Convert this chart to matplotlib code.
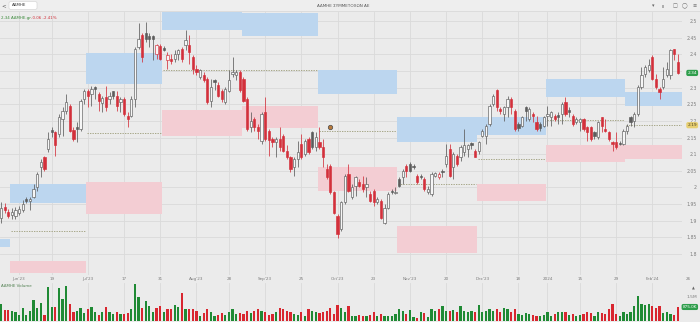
import numpy as np
import pandas as pd
import matplotlib.pyplot as plt
from matplotlib.patches import Rectangle, FancyBboxPatch
from matplotlib.transforms import blended_transform_factory

# ── data ──────────────────────────────────────────────────────────────────────
first_date = "2023-05-29"
holidays = ["2023-06-05", "2023-08-15", "2023-12-25", "2023-12-26", "2024-01-01"]

open_ = [1.909, 1.941, 1.926, 1.917, 1.914, 1.923, 1.931, 1.965, 1.958, 1.972,
         2.000, 2.060, 2.090, 2.116, 2.174, 2.166, 2.161, 2.206, 2.231, 2.246,
         2.174, 2.181, 2.176, 2.266, 2.291, 2.281, 2.302, 2.281, 2.255, 2.271,
         2.266, 2.289, 2.276, 2.256, 2.266, 2.216, 2.216, 2.266, 2.422, 2.458,
         2.463, 2.454, 2.454, 2.402, 2.424, 2.420, 2.382, 2.385, 2.387, 2.402,
         2.417, 2.427, 2.427, 2.392, 2.357, 2.332, 2.337, 2.327, 2.261, 2.322,
         2.307, 2.291, 2.256, 2.291, 2.342, 2.337, 2.347, 2.327, 2.266, 2.181,
         2.206, 2.181, 2.141, 2.226, 2.171, 2.146, 2.136, 2.146, 2.156, 2.110,
         2.090, 2.060, 2.085, 2.131, 2.100, 2.146, 2.166, 2.121, 2.136, 2.121,
         2.055, 2.065, 1.985, 1.914, 1.874, 1.955, 2.040, 1.970, 2.005, 2.015,
         2.010, 2.000, 1.980, 1.990, 1.955, 1.960, 1.894, 1.939, 1.990, 1.982,
         2.025, 2.030, 2.065, 2.070, 2.065, 2.035, 2.035, 2.025, 1.985, 1.980,
         2.035, 2.030, 2.050, 2.070, 2.116, 2.060, 2.095, 2.090, 2.105, 2.116,
         2.133, 2.110, 2.110, 2.156, 2.156, 2.191, 2.251, 2.294, 2.236, 2.221,
         2.241, 2.266, 2.231, 2.191, 2.186, 2.241, 2.206, 2.221, 2.196, 2.191,
         2.186, 2.216, 2.211, 2.216, 2.219, 2.221, 2.256, 2.233, 2.216, 2.196,
         2.196, 2.206, 2.181, 2.181, 2.166, 2.151, 2.211, 2.176, 2.166, 2.136,
         2.136, 2.135, 2.131, 2.171, 2.211, 2.201, 2.221, 2.302, 2.342, 2.352,
         2.392, 2.327, 2.297, 2.302, 2.337, 2.337, 2.415, 2.377]
high = [1.955, 1.952, 1.934, 1.939, 1.940, 1.944, 1.961, 1.972, 1.970, 2.010,
        2.045, 2.085, 2.095, 2.166, 2.181, 2.171, 2.221, 2.241, 2.281, 2.251,
        2.181, 2.196, 2.266, 2.296, 2.296, 2.306, 2.306, 2.286, 2.276, 2.304,
        2.286, 2.291, 2.291, 2.271, 2.271, 2.226, 2.274, 2.422, 2.493, 2.463,
        2.498, 2.463, 2.458, 2.432, 2.432, 2.424, 2.407, 2.402, 2.412, 2.417,
        2.422, 2.473, 2.458, 2.397, 2.367, 2.357, 2.347, 2.332, 2.327, 2.327,
        2.317, 2.296, 2.302, 2.352, 2.392, 2.352, 2.352, 2.332, 2.271, 2.226,
        2.211, 2.191, 2.226, 2.271, 2.176, 2.151, 2.151, 2.181, 2.161, 2.126,
        2.095, 2.090, 2.141, 2.161, 2.146, 2.151, 2.171, 2.166, 2.181, 2.146,
        2.070, 2.070, 1.990, 1.919, 1.960, 2.040, 2.070, 2.010, 2.035, 2.025,
        2.035, 2.030, 1.990, 1.995, 1.970, 1.965, 1.950, 1.985, 1.995, 2.000,
        2.030, 2.055, 2.070, 2.075, 2.070, 2.040, 2.040, 2.030, 2.005, 2.045,
        2.045, 2.045, 2.055, 2.131, 2.131, 2.105, 2.100, 2.126, 2.176, 2.131,
        2.138, 2.116, 2.141, 2.176, 2.191, 2.251, 2.281, 2.297, 2.241, 2.246,
        2.276, 2.271, 2.236, 2.196, 2.216, 2.246, 2.241, 2.226, 2.216, 2.196,
        2.216, 2.246, 2.231, 2.221, 2.226, 2.256, 2.271, 2.241, 2.221, 2.211,
        2.208, 2.208, 2.186, 2.186, 2.171, 2.201, 2.211, 2.206, 2.171, 2.141,
        2.166, 2.141, 2.176, 2.191, 2.216, 2.226, 2.307, 2.362, 2.367, 2.387,
        2.397, 2.342, 2.302, 2.362, 2.377, 2.417, 2.417, 2.402]
low = [1.894, 1.924, 1.907, 1.904, 1.905, 1.917, 1.925, 1.952, 1.931, 1.967,
       1.990, 2.030, 2.050, 2.106, 2.151, 2.095, 2.151, 2.156, 2.221, 2.166,
       2.141, 2.136, 2.171, 2.251, 2.241, 2.246, 2.266, 2.231, 2.226, 2.231,
       2.251, 2.266, 2.231, 2.226, 2.216, 2.181, 2.211, 2.241, 2.417, 2.377,
       2.437, 2.422, 2.382, 2.387, 2.382, 2.410, 2.357, 2.372, 2.377, 2.382,
       2.377, 2.412, 2.372, 2.342, 2.337, 2.327, 2.317, 2.251, 2.241, 2.292,
       2.271, 2.256, 2.251, 2.286, 2.332, 2.322, 2.286, 2.256, 2.171, 2.166,
       2.171, 2.146, 2.131, 2.141, 2.095, 2.121, 2.090, 2.110, 2.105, 2.085,
       2.045, 2.035, 2.060, 2.085, 2.095, 2.100, 2.116, 2.110, 2.116, 2.060,
       2.025, 1.980, 1.919, 1.849, 1.869, 1.950, 1.985, 1.965, 1.975, 2.000,
       1.985, 1.970, 1.955, 1.945, 1.950, 1.904, 1.889, 1.935, 1.980, 1.980,
       2.000, 2.010, 2.030, 2.045, 2.055, 2.010, 2.025, 1.990, 1.980, 1.975,
       2.030, 2.025, 2.030, 2.060, 2.030, 2.025, 2.065, 2.080, 2.095, 2.090,
       2.115, 2.090, 2.100, 2.151, 2.131, 2.186, 2.246, 2.231, 2.221, 2.201,
       2.211, 2.221, 2.171, 2.171, 2.181, 2.201, 2.201, 2.196, 2.171, 2.171,
       2.181, 2.186, 2.186, 2.201, 2.191, 2.191, 2.216, 2.211, 2.186, 2.191,
       2.171, 2.171, 2.141, 2.141, 2.146, 2.146, 2.166, 2.166, 2.141, 2.110,
       2.116, 2.126, 2.126, 2.161, 2.186, 2.181, 2.216, 2.297, 2.332, 2.347,
       2.322, 2.297, 2.267, 2.297, 2.332, 2.327, 2.382, 2.342]
close = [1.939, 1.931, 1.914, 1.926, 1.931, 1.935, 1.950, 1.960, 1.964, 1.995,
         2.040, 2.075, 2.055, 2.146, 2.166, 2.126, 2.211, 2.231, 2.256, 2.171,
         2.146, 2.175, 2.261, 2.291, 2.276, 2.296, 2.296, 2.259, 2.269, 2.241,
         2.276, 2.276, 2.246, 2.266, 2.221, 2.206, 2.266, 2.417, 2.447, 2.392,
         2.447, 2.447, 2.447, 2.427, 2.387, 2.414, 2.397, 2.379, 2.402, 2.412,
         2.387, 2.442, 2.407, 2.357, 2.347, 2.352, 2.324, 2.256, 2.302, 2.317,
         2.276, 2.266, 2.296, 2.322, 2.347, 2.347, 2.292, 2.261, 2.176, 2.201,
         2.181, 2.171, 2.221, 2.146, 2.144, 2.136, 2.146, 2.121, 2.110, 2.090,
         2.055, 2.085, 2.105, 2.090, 2.141, 2.105, 2.121, 2.151, 2.121, 2.090,
         2.030, 1.985, 1.924, 1.859, 1.955, 2.035, 1.990, 2.000, 2.030, 2.005,
         1.995, 2.010, 1.960, 1.955, 1.965, 1.909, 1.939, 1.980, 1.985, 1.987,
         2.005, 2.050, 2.048, 2.050, 2.060, 2.015, 2.030, 1.995, 1.995, 2.040,
         2.042, 2.040, 2.045, 2.095, 2.035, 2.100, 2.070, 2.121, 2.126, 2.126,
         2.128, 2.092, 2.136, 2.171, 2.186, 2.246, 2.276, 2.241, 2.231, 2.241,
         2.266, 2.241, 2.176, 2.178, 2.211, 2.231, 2.236, 2.216, 2.176, 2.178,
         2.211, 2.221, 2.226, 2.206, 2.213, 2.251, 2.221, 2.226, 2.191, 2.206,
         2.206, 2.176, 2.166, 2.146, 2.156, 2.196, 2.186, 2.171, 2.146, 2.131,
         2.121, 2.131, 2.171, 2.186, 2.196, 2.221, 2.302, 2.337, 2.362, 2.367,
         2.327, 2.302, 2.287, 2.327, 2.357, 2.412, 2.402, 2.344]
volume = [1060, 710, 710, 600, 540, 400, 790, 400, 600, 1310,
          790, 1100, 400, 2100, 900, 850, 2040, 1375, 2210, 1060,
          540, 650, 790, 500, 750, 850, 540, 400, 540, 850,
          540, 440, 580, 440, 440, 500, 750, 2310, 1480, 790,
          1270, 960, 580, 790, 920, 540, 750, 750, 1000, 850,
          1730, 750, 750, 750, 600, 330, 480, 750, 580, 330,
          375, 480, 375, 540, 750, 440, 500, 440, 650, 500,
          650, 750, 650, 580, 375, 440, 580, 790, 750, 650,
          580, 440, 375, 540, 330, 750, 650, 540, 500, 540,
          650, 790, 440, 1000, 790, 540, 960, 330, 290, 375,
          330, 290, 375, 540, 330, 440, 330, 290, 330, 440,
          750, 650, 440, 710, 230, 170, 540, 500, 230, 750,
          650, 750, 960, 650, 650, 710, 580, 960, 650, 540,
          650, 580, 1000, 540, 650, 750, 650, 750, 540, 790,
          750, 580, 750, 440, 375, 480, 440, 375, 330, 290,
          375, 540, 330, 440, 540, 580, 580, 375, 440, 330,
          375, 440, 540, 500, 330, 580, 500, 440, 750, 1040,
          440, 330, 540, 440, 580, 960, 1560, 1060, 1000, 1060,
          910, 810, 940, 500, 560, 410, 380, 875]  # thousand shares

# monthly levels: upper band (blue), pivot (dotted), lower band (pink)
months = ["2023-05", "2023-06", "2023-07", "2023-08", "2023-09",
          "2023-10", "2023-11", "2023-12", "2024-01", "2024-02"]
upper_lo = [1.821, 1.953, 2.310, 2.473, 2.455, 2.281, 2.136, 2.159, 2.273, 2.246]
upper_hi = [1.845, 2.010, 2.404, 2.545, 2.523, 2.352, 2.213, 2.211, 2.327, 2.287]
pivot = [1.720, 1.868, 2.163, 2.354, 2.352, 2.171, 2.010, 2.085, 2.203, 2.187]
lower_lo = [1.600, 1.744, 1.921, 2.156, 2.179, 1.990, 1.804, 1.960, 2.075, 2.085]
lower_hi = [1.630, 1.780, 2.015, 2.233, 2.246, 2.060, 1.884, 2.010, 2.128, 2.126]

event_dates = ["2023-10-05"]

tick_dates = ["2023-06-05", "2023-06-19", "2023-07-03", "2023-07-17", "2023-07-31",
              "2023-08-14", "2023-08-28", "2023-09-11", "2023-09-25", "2023-10-09",
              "2023-10-23", "2023-11-06", "2023-11-20", "2023-12-04", "2023-12-18",
              "2024-01-01", "2024-01-15", "2024-01-29", "2024-02-12", "2024-02-26"]
tick_labels = ["Jun'23", "19", "Jul'23", "17", "31", "Aug'23", "28", "Sep'23", "25",
               "Oct'23", "23", "Nov'23", "20", "Dec'23", "18", "2024", "15", "29",
               "Feb'24", "26"]
price_ticks = [1.8, 1.85, 1.9, 1.95, 2.0, 2.05, 2.1, 2.15, 2.2, 2.25, 2.3, 2.35,
               2.4, 2.45, 2.5]

ticker = "ΑΔΜΗΕ"
title = "ΑΔΜΗΕ ΣΥΜΜΕΤΟΧΩΝ ΑΕ"

# ── colours ───────────────────────────────────────────────────────────────────
BG = "#ebebeb"
GRID = "#dadada"
RED = "#d3303b"
GRAY = "#5c5c5c"
HOLLOW = "#f6f6f6"
VGREEN = "#1f8a34"
VRED = "#d8262f"
BLUE = "#bcd6ef"
PINK = "#f3cdd3"
PIVOT = "#9c9c78"

# ── positions on the trading-day axis ────────────────────────────────────────
all_days = pd.bdate_range("2023-05-01", "2024-02-29")
all_days = all_days[~all_days.isin(pd.to_datetime(holidays))]
start = all_days.get_loc(pd.Timestamp(first_date))
xpos = np.arange(len(all_days)) - start
n = len(close)
x = xpos[start:start + n]

o = np.array(open_)
h = np.array(high)
l = np.array(low)
c = np.array(close)
prev = np.r_[o[0], c[:-1]]
up = c >= prev
edge = np.where(up, GRAY, RED)
face = [e if f else HOLLOW for e, f in zip(edge, c < o)]

W, H = 700, 322
fx = lambda px: px / W
fy = lambda py: 1 - py / H

fig = plt.figure(figsize=(7, 3.22), dpi=100)
fig.patch.set_facecolor(BG)

ax = fig.add_axes([0, fy(275), fx(682), fy(12) - fy(275)])
axv = fig.add_axes([0, fy(321), fx(682), fy(283) - fy(321)], sharex=ax)
for a in (ax, axv):
    a.set_facecolor(BG)
    for s in a.spines.values():
        s.set_visible(False)

ax.set_xlim(-0.28, 188.2)
ax.set_ylim(1.737, 2.527)

# grid
tick_pos = xpos[all_days.searchsorted(pd.to_datetime(tick_dates))]
for tp in tick_pos:
    ax.axvline(tp, color=GRID, lw=0.6, zorder=0)
    axv.axvline(tp, color=GRID, lw=0.6, zorder=0)
ax.set_yticks(price_ticks)
# the last-price badge sits over the 2.35 label, as in the source
ax.set_yticklabels(["" if abs(v - c[-1]) < 0.02 else f"{v:g}" for v in price_ticks])
ax.grid(axis="y", color=GRID, lw=0.6, zorder=0)
ax.set_axisbelow(True)
ax.yaxis.tick_right()
ax.tick_params(axis="y", length=0, pad=10.8, labelsize=3.3, labelcolor="#7c7c7c")
for lab in ax.get_yticklabels():
    lab.set_horizontalalignment("right")
ax.tick_params(axis="x", length=0, labelbottom=False)

# monthly bands and pivots
period = all_days.to_period("M")
for i, m in enumerate(months):
    sel = xpos[period == pd.Period(m)]
    x0, x1 = sel.min() - 0.5, sel.max() + 0.5
    ax.add_patch(Rectangle((x0, upper_lo[i]), x1 - x0, upper_hi[i] - upper_lo[i],
                           fc=BLUE, ec="none", zorder=1))
    ax.add_patch(Rectangle((x0, lower_lo[i]), x1 - x0, lower_hi[i] - lower_lo[i],
                           fc=PINK, ec="none", zorder=1))
    ax.hlines(pivot[i], x0 + 0.3, x1 - 0.3, colors=PIVOT, lw=0.6,
              linestyles=(0, (1.6, 1.4)), zorder=2)

# event marker on the October pivot
ev_x = xpos[all_days.searchsorted(pd.to_datetime(event_dates))]
ev_y = [pivot[months.index(d[:7])] for d in event_dates]
ax.plot(ev_x, np.array(ev_y) + 0.012, "o", ms=3.2, mfc="#b87a3c", mec="#4a4a4a",
        mew=0.5, zorder=6)

# candles
ax.vlines(x, l, h, colors=edge, lw=0.55, zorder=3)
ax.bar(x, np.maximum(np.abs(c - o), 0.0025), width=0.62, bottom=np.minimum(o, c),
       color=face, edgecolor=edge, linewidth=0.45, zorder=4)

# date labels
tr = blended_transform_factory(ax.transData, fig.transFigure)
for tp, lab in zip(tick_pos, tick_labels):
    ax.text(tp, fy(279), lab, transform=tr, ha="center", va="center",
            fontsize=3.0, color="#7c7c7c", clip_on=False)

# badges
tr_r = blended_transform_factory(ax.transAxes, ax.transData)
ax.text(697 / 682, c[-1], f"{c[-1]:.2f}", transform=tr_r, ha="right", va="center",
        fontsize=3.2, color="white", clip_on=False, zorder=10,
        bbox=dict(boxstyle="round,pad=0.25,rounding_size=0.4", fc="#2f9e4c", ec="none"))
ax.text(697 / 682, pivot[-1], f"{pivot[-1]:.2f}", transform=tr_r, ha="right",
        va="center", fontsize=3.2, color="#4a4020", clip_on=False, zorder=10,
        bbox=dict(boxstyle="round,pad=0.25,rounding_size=0.4", fc="#e7cf72", ec="none"))

# info line
chg = c[-1] - c[-2]
ax.text(0.002, 0.985, f"{c[-1]:.2f}".replace(".", ",") + f" {ticker}.gr",
        transform=ax.transAxes, fontsize=2.9, color="#3a8a3a", va="top", ha="left")
ax.text(0.045, 0.985, f"{chg:.2f} {chg / c[-2] * 100:.2f}%", transform=ax.transAxes,
        fontsize=2.9, color="#d0303a", va="top", ha="left")

# volume
axv.bar(x, volume, width=0.62, color=np.where(up, VGREEN, VRED), zorder=3)
axv.set_ylim(0, 2375)
axv.yaxis.tick_right()
axv.set_yticks([1500])
axv.set_yticklabels(["1.5M"])
axv.tick_params(axis="y", length=0, pad=10.8, labelsize=3.2, labelcolor="#7c7c7c")
for lab in axv.get_yticklabels():
    lab.set_horizontalalignment("right")
axv.tick_params(axis="x", length=0, labelbottom=False)
axv.text(0.002, 0.98, f"{ticker} Volume", transform=axv.transAxes, fontsize=2.9,
         color="#4f7f4f", va="top", ha="left")
tr_v = blended_transform_factory(axv.transAxes, axv.transData)
axv.text(697 / 682, volume[-1], f"{volume[-1]:.1f}K", transform=tr_v, ha="right",
         va="center", fontsize=3.0, color="white", clip_on=False, zorder=10,
         bbox=dict(boxstyle="round,pad=0.25,rounding_size=0.4", fc="#2f9e4c", ec="none"))
fig.text(fx(693), fy(288), "▲", fontsize=2.6, color="#666666", ha="center", va="center")

# header
fig.add_artist(Rectangle((0, fy(11)), 1, fy(0) - fy(11), transform=fig.transFigure,
                         fc="#eeeeee", ec="none"))
fig.add_artist(plt.Line2D([0, 1], [fy(11), fy(11)], transform=fig.transFigure,
                          color="#d6d6d6", lw=0.5))
fig.add_artist(FancyBboxPatch((fx(9), fy(9.5)), fx(28), fy(1.5) - fy(9.5),
                              boxstyle="round,pad=0,rounding_size=0.004",
                              transform=fig.transFigure, fc="white", ec="#d0d0d0",
                              lw=0.4))
fig.text(fx(4), fy(5.5), "<", fontsize=4, color="#555555", ha="center", va="center")
fig.text(fx(12), fy(5.5), ticker, fontsize=2.9, color="#333333", ha="left", va="center")
fig.text(fx(343), fy(6), title, fontsize=3.0, color="#555555", ha="center", va="center")
for px, g in zip([653, 663, 675, 685, 695], ["▾", "ıı", "□", "◯", "≡"]):
    fig.text(fx(px), fy(6), g, fontsize=3.6, color="#666666", ha="center", va="center")

fig.savefig("out.png", dpi=100, facecolor=BG)
